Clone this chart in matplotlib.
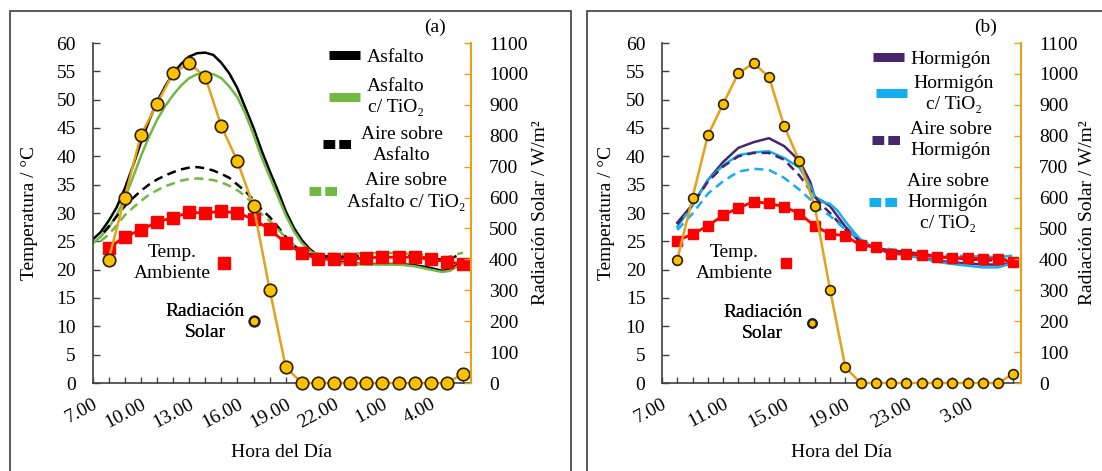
import matplotlib
matplotlib.use('Agg')
import matplotlib.pyplot as plt
from matplotlib.lines import Line2D
from matplotlib.patches import Rectangle

plt.rcParams['font.family'] = ['Liberation Serif', 'DejaVu Serif']

# ---------------- data ----------------
hours = list(range(8, 31))  # 8.00 ... 6.00 (next day as 30)
radiacion = [399, 600, 801, 903, 1002, 1035, 990, 831, 717, 572, 302, 51,
             0, 0, 0, 0, 0, 0, 0, 0, 0, 0, 30]

temp_amb_a = [23.8, 25.8, 27.0, 28.4, 29.2, 30.1, 30.0, 30.3, 30.0, 28.9, 27.1, 24.7,
              22.9, 21.9, 21.9, 21.8, 22.1, 22.2, 22.2, 22.2, 21.8, 21.4, 21.0]
temp_amb_b = [25.1, 26.3, 27.7, 29.6, 30.9, 32.0, 31.7, 31.1, 29.9, 27.7, 26.3, 26.0,
              24.3, 24.0, 22.8, 22.8, 22.6, 22.2, 22.1, 22.1, 21.9, 21.9, 21.3]

t_asf = [7.0, 7.5, 8.0, 8.5, 9.0, 9.5, 10.0, 10.5, 11.0, 11.5, 12.0, 12.5, 13.0, 13.5,
         14.0, 14.5, 15.0, 15.5, 16.0, 16.5, 17.0, 17.5, 18.0, 18.5, 19.0, 19.5, 20.0,
         20.5, 21.0, 22.0, 23.0, 24.0, 25.0, 26.0, 27.0, 28.0, 28.7, 29.2, 29.6]
asfalto = [25.3, 26.6, 28.6, 31.0, 34.3, 38.2, 42.4, 46.2, 49.6, 52.3, 54.6, 56.3, 57.6, 58.2,
           58.3, 57.9, 56.5, 54.6, 52.0, 48.5, 45.0, 41.0, 37.4, 34.0, 30.3, 27.4, 25.2,
           23.6, 22.5, 21.5, 21.1, 21.0, 21.0, 21.0, 20.8, 20.3, 19.8, 20.0, 20.8]
asfalto_tio2 = [24.6, 25.8, 27.4, 29.6, 32.6, 36.2, 40.0, 43.4, 46.4, 48.8, 50.8, 52.5, 53.8, 54.5,
                54.7, 54.5, 53.8, 52.3, 50.4, 47.5, 43.8, 39.8, 36.4, 33.0, 29.6, 26.8, 24.7,
                23.3, 22.3, 21.3, 21.0, 20.9, 20.9, 20.9, 20.6, 20.0, 19.6, 19.8, 20.5]

t_aire_asf = [7.7, 8.0, 8.5, 9.0, 9.5, 10.0, 10.5, 11.0, 11.5, 12.0, 12.5, 13.0, 13.5, 14.0,
              14.5, 15.0, 15.5, 16.0, 16.5, 17.0, 17.5, 18.0, 18.5, 19.0, 19.5, 20.0, 20.5,
              21.0, 22.0, 23.0, 24.0, 25.0, 26.0, 27.0, 28.0, 29.0, 29.6]
aire_asfalto = [26.6, 27.6, 29.4, 31.2, 32.6, 33.9, 35.0, 35.9, 36.6, 37.2, 37.7, 38.0, 38.1, 37.9,
                37.5, 36.9, 36.2, 35.0, 33.8, 32.3, 30.6, 29.3, 27.6, 25.8, 24.3, 23.2, 22.7,
                22.4, 22.3, 22.3, 22.4, 22.5, 22.4, 22.3, 22.0, 21.7, 22.4]
t_aire_asf_tio2 = [7.5, 8.0, 8.5, 9.0, 9.5, 10.0, 10.5, 11.0, 11.5, 12.0, 12.5, 13.0, 13.5, 14.0,
                   14.5, 15.0, 15.5, 16.0, 16.5, 17.0, 17.5, 18.0, 18.5, 19.0, 19.5, 20.0, 20.5,
                   21.0, 22.0, 23.0, 24.0, 25.0, 26.0, 27.0, 28.0, 29.0, 30.0]
aire_asfalto_tio2 = [25.0, 26.2, 27.8, 29.6, 30.9, 32.1, 33.2, 34.0, 34.7, 35.2, 35.7, 36.0, 36.1, 36.0,
                     35.8, 35.4, 34.8, 34.0, 33.0, 31.4, 29.8, 28.6, 27.2, 25.6, 24.4, 23.6, 23.1,
                     22.8, 22.8, 22.8, 22.9, 23.0, 22.9, 22.8, 22.5, 22.2, 23.0]

t_horm = [8, 9, 10, 11, 12, 13, 14, 15, 16, 16.7, 17, 17.5, 18, 18.5, 19, 19.7, 20,
          21, 22, 23, 24, 25, 26, 27, 28, 29, 30]
hormigon = [28.3, 31.5, 35.8, 39.0, 41.5, 42.5, 43.2, 41.8, 39.2, 35.5, 32.8, 32.1, 31.2, 29.4,
            27.6, 25.6, 25.0, 23.6, 23.0, 22.6, 22.1, 21.6, 21.3, 21.1, 20.9, 20.9, 21.2]
hormigon_tio2 = [27.6, 31.3, 35.8, 38.4, 40.2, 40.7, 40.9, 39.7, 38.0, 34.8, 32.9, 32.0, 31.6, 30.4,
                 28.5, 26.2, 25.3, 23.6, 23.0, 22.5, 22.0, 21.4, 21.0, 20.7, 20.4, 20.4, 21.2]
aire_hormigon = [28.0, 31.5, 35.5, 38.2, 40.0, 40.6, 40.6, 39.4, 36.6, 34.0, 32.9, 31.3, 30.0, 28.5,
                 27.1, 25.6, 25.0, 23.8, 23.4, 23.1, 22.8, 22.4, 22.1, 21.8, 21.7, 21.6, 22.0]
aire_hormigon_tio2 = [27.0, 29.9, 33.4, 35.6, 37.3, 37.8, 37.6, 36.2, 34.1, 32.4, 31.3, 30.4, 29.5, 28.3,
                      27.1, 25.8, 25.3, 24.0, 23.6, 23.2, 22.9, 22.6, 22.5, 22.4, 22.3, 22.2, 22.5]

ticks_a = [7, 10, 13, 16, 19, 22, 25, 28]
ticklabels_a = ["7.00", "10.00", "13.00", "16.00", "19.00", "22.00", "1.00", "4.00"]
ticks_b = [7, 11, 15, 19, 23, 27]
ticklabels_b = ["7.00", "11.00", "15.00", "19.00", "23.00", "3.00"]

labels_a = ['Asfalto', 'Asfalto\nc/ TiO₂', 'Aire sobre\nAsfalto', 'Aire sobre\nAsfalto c/ TiO₂']
labels_b = ['Hormigón', 'Hormigón\nc/ TiO₂', 'Aire sobre\nHormigón', 'Aire sobre\nHormigón\nc/ TiO₂']

# ---------------- styles ----------------
C_BLACK = '#000000'
C_GREEN = '#72B944'
C_PURPLE = '#46276C'
C_BLUE = '#16AEEF'
C_RED = '#FF0000'
C_ORANGE = '#E3A21A'
C_GOLD = '#FFC000'
FS = 14
DASH = (3.6, 2.2)
W, H = 1102, 471

fig = plt.figure(figsize=(W / 100, H / 100), dpi=100)

# chart frames
fig.patches.append(Rectangle((10 / W, -0.1), (571 - 10) / W, 1.1 - 11 / H,
                             transform=fig.transFigure, fill=False, ec='#404040', lw=1.2))
fig.patches.append(Rectangle((587 / W, -0.1), 0.6, 1.1 - 11 / H,
                             transform=fig.transFigure, fill=False, ec='#404040', lw=1.2))


def setup(ax, ticks, labels):
    ax.set_xlim(7, 30.5)
    ax.set_ylim(0, 60)
    ax.set_yticks(range(0, 61, 5))
    ax.set_xticks(ticks)
    ax.set_xticklabels(labels, rotation=28, ha='right', rotation_mode='anchor')
    ax.set_xticks(range(7, 31), minor=True)
    ax.tick_params(axis='x', which='both', direction='in', length=4, width=1,
                   color='#404040', labelsize=FS, pad=9)
    ax.tick_params(axis='y', direction='in', length=5, width=1, color='#404040',
                   labelsize=FS, pad=12)
    for s in ['top', 'right']:
        ax.spines[s].set_visible(False)
    for s in ['left', 'bottom']:
        ax.spines[s].set_color('#404040')
        ax.spines[s].set_linewidth(1.2)
    ax.set_ylabel('Temperatura / °C', fontsize=FS)
    ax.set_xlabel('Hora del Día', fontsize=FS)
    ax.xaxis.set_label_coords(0.5, -0.18)


def twin(ax):
    ax2 = ax.twinx()
    ax2.set_ylim(0, 1100)
    ax2.set_yticks(range(0, 1101, 100))
    for s in ['top', 'left', 'bottom']:
        ax2.spines[s].set_visible(False)
    ax2.spines['right'].set_color(C_ORANGE)
    ax2.spines['right'].set_linewidth(1.5)
    ax2.tick_params(axis='y', direction='in', length=5, width=1, color=C_ORANGE,
                    labelsize=FS, pad=13)
    ax2.set_ylabel('Radiación Solar / W/m²', fontsize=FS)
    ax2.yaxis.set_label_coords(1.161, 0.5)
    return ax2


def solid_handle(c):
    return Line2D([], [], color=c, lw=6.5, solid_capstyle='butt')


def dash_handle(c):
    return Line2D([], [], color=c, lw=6.5, dashes=(1.3, 0.45), dash_capstyle='butt')


def center_texts(leg, ls=1.25):
    for t in leg.get_texts():
        t.set_multialignment('center')
        t.set_linespacing(ls)


def entry_legend(ax, handle, label, center, markerfirst=True, hl=1.6, pad=0.35):
    leg = ax.legend([handle], [label], loc='center', bbox_to_anchor=center, frameon=False,
                    fontsize=FS, handlelength=hl, handletextpad=pad, markerfirst=markerfirst,
                    borderpad=0.0, borderaxespad=0)
    center_texts(leg, 1.3)
    ax.add_artist(leg)


def side_legends(ax, temp_pos, rad_pos, ms_r, ms_c):
    h1 = Line2D([], [], color=C_RED, marker='s', ls='none', ms=ms_r)
    entry_legend(ax, h1, 'Temp.\nAmbiente', temp_pos, markerfirst=False, hl=0.8, pad=0.3)
    h2 = Line2D([], [], color=C_GOLD, marker='o', ls='none', ms=ms_c, mec='#222222', mew=1.6)
    entry_legend(ax, h2, 'Radiación\nSolar', rad_pos, markerfirst=False, hl=0.8, pad=0.1)


# ---------------- panel (a) ----------------
axa = fig.add_axes([92.5 / W, 88 / H, 378.5 / W, 340 / H])
setup(axa, ticks_a, ticklabels_a)
axa.plot(t_asf, asfalto, color=C_BLACK, lw=1.8)
axa.plot(t_asf, asfalto_tio2, color=C_GREEN, lw=1.8)
axa.plot(t_aire_asf, aire_asfalto, color=C_BLACK, lw=1.8, dashes=DASH)
axa.plot(t_aire_asf_tio2, aire_asfalto_tio2, color=C_GREEN, lw=1.8, dashes=DASH)
axa.plot(hours, temp_amb_a, color=C_RED, lw=2.0, marker='s', ms=8, zorder=3)
axa.yaxis.set_label_coords(-0.144, 0.5)

axa2 = twin(axa)
axa2.plot(hours, radiacion, color=C_ORANGE, lw=1.8, marker='o', ms=9,
          mfc=C_GOLD, mec='#2a2000', mew=1.2, clip_on=False)

handles_a = [solid_handle(C_BLACK), solid_handle(C_GREEN), dash_handle(C_BLACK), dash_handle(C_GREEN)]
centers_a = [(0.752, 0.959), (0.752, 0.840), (0.767, 0.701), (0.778, 0.563)]
for h, lab, c in zip(handles_a, labels_a, centers_a):
    entry_legend(axa2, h, lab, c)
side_legends(axa2, (0.238, 0.353), (0.32, 0.18), 8, 7)
axa.text(0.904, 1.045, '(a)', transform=axa.transAxes, ha='center', va='center', fontsize=FS)

# ---------------- panel (b) ----------------
axb = fig.add_axes([662 / W, 88 / H, 359 / W, 340 / H])
setup(axb, ticks_b, ticklabels_b)
axb.plot(t_horm, hormigon, color=C_PURPLE, lw=1.8)
axb.plot(t_horm, hormigon_tio2, color=C_BLUE, lw=1.8)
axb.plot(t_horm, aire_hormigon, color=C_PURPLE, lw=1.8, dashes=DASH)
axb.plot(t_horm, aire_hormigon_tio2, color=C_BLUE, lw=1.8, dashes=DASH)
axb.plot(hours, temp_amb_b, color=C_RED, lw=2.0, marker='s', ms=6.5, zorder=3)
axb.yaxis.set_label_coords(-0.131, 0.5)

axb2 = twin(axb)
axb2.plot(hours, radiacion, color=C_ORANGE, lw=1.8, marker='o', ms=7,
          mfc=C_GOLD, mec='#2a2000', mew=1.2, clip_on=False)

handles_b = [solid_handle(C_PURPLE), solid_handle(C_BLUE), dash_handle(C_PURPLE), dash_handle(C_BLUE)]
centers_b = [(0.752, 0.953), (0.760, 0.851), (0.752, 0.715), (0.744, 0.532)]
for h, lab, c in zip(handles_b, labels_b, centers_b):
    entry_legend(axb2, h, lab, c)
side_legends(axb2, (0.231, 0.353), (0.305, 0.176), 7, 6)
axb.text(0.902, 1.045, '(b)', transform=axb.transAxes, ha='center', va='center', fontsize=FS)

fig.savefig('out.png', dpi=100)
